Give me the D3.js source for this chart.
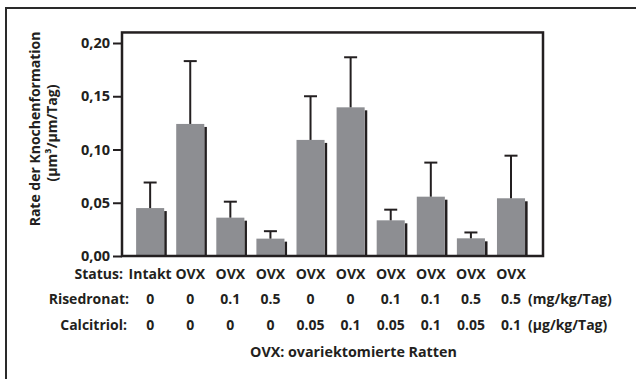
<!DOCTYPE html>
<html><head><meta charset="utf-8">
<script src="https://cdn.jsdelivr.net/npm/d3@7"></script>
<style>
body{margin:0;background:#fff;}
text{font-family:"Open Sans","DejaVu Sans",sans-serif;font-weight:700;fill:#231f20;}
</style></head><body>
<svg id="c" width="636" height="379"></svg>
<script>
const status = ["Intakt","OVX","OVX","OVX","OVX","OVX","OVX","OVX","OVX","OVX"];
const risedronat = ["0","0","0.1","0.5","0","0","0.1","0.1","0.5","0.5"];
const calcitriol = ["0","0","0","0","0.05","0.1","0.05","0.1","0.05","0.1"];
const values = [0.045,0.124,0.036,0.0163,0.109,0.1396,0.0335,0.0557,0.0166,0.0542];
const errors = [0.024,0.059,0.015,0.007,0.041,0.047,0.010,0.032,0.0055,0.040];
const yTicks = [0,0.05,0.10,0.15,0.20];

const svg = d3.select("#c");
const dark = "#231f20", gray = "#8d8e92";
const idx = d3.range(values.length);

// outer frame (top + left)
svg.append("path").attr("d","M6,660 L6,8 L700,8").attr("fill","none")
  .attr("stroke","#2a2a2a").attr("stroke-width",2);

const x = d3.scaleBand().domain(idx).range([122,543])
  .paddingInner(0.3).paddingOuter(0.4).align(0.44);
const y = d3.scaleLinear().domain([0,0.2]).range([256,43]);

// bars
const g = svg.append("g");
g.selectAll(".sh").data(idx).join("rect")
  .attr("x",i=>x(i)+x.bandwidth()).attr("width",2.6)
  .attr("y",i=>y(values[i])+3).attr("height",i=>y(0)-y(values[i])-3)
  .attr("fill",dark);
g.selectAll(".bar").data(idx).join("rect")
  .attr("x",i=>x(i)).attr("width",x.bandwidth())
  .attr("y",i=>y(values[i])).attr("height",i=>y(0)-y(values[i]))
  .attr("fill",gray);
// error bars
const cx = i=>x(i)+x.bandwidth()/2;
g.selectAll(".ev").data(idx).join("line")
  .attr("x1",cx).attr("x2",cx)
  .attr("y1",i=>y(values[i])).attr("y2",i=>y(values[i]+errors[i]))
  .attr("stroke",dark).attr("stroke-width",2);
g.selectAll(".ec").data(idx).join("line")
  .attr("x1",i=>cx(i)-6.5).attr("x2",i=>cx(i)+6.5)
  .attr("y1",i=>y(values[i]+errors[i])).attr("y2",i=>y(values[i]+errors[i]))
  .attr("stroke",dark).attr("stroke-width",2);

// plot frame
svg.append("rect").attr("x",122).attr("y",y(0.2099)).attr("width",421)
  .attr("height",y(0)-y(0.2099)).attr("fill","none")
  .attr("stroke",dark).attr("stroke-width",2.5);

// y axis
const ax = svg.append("g").attr("transform","translate(122,0)")
  .call(d3.axisLeft(y).tickValues(yTicks).tickSize(9).tickPadding(3)
    .tickFormat(d=>d3.format(".2f")(d).replace(".",",")));
ax.select(".domain").remove();
ax.selectAll(".tick line").attr("stroke",dark).attr("stroke-width",2);
ax.selectAll(".tick text").attr("font-size",14.5).attr("font-family",null).attr("fill",dark);

// y title
svg.append("text").attr("transform","translate(40,129) rotate(-90)")
  .attr("text-anchor","middle").attr("font-size",14).text("Rate der Knochenformation");
svg.append("text").attr("transform","translate(57,133) rotate(-90)")
  .attr("text-anchor","middle").attr("font-size",14).text("(μm³/μm/Tag)");

// category rows
const rows = [
  {label:"Status:", vals:status, y:279, lx:123, unit:null},
  {label:"Risedronat:", vals:risedronat, y:303.5, lx:129, unit:"(mg/kg/Tag)"},
  {label:"Calcitriol:", vals:calcitriol, y:330, lx:127, unit:"(μg/kg/Tag)"}
];
rows.forEach(r=>{
  svg.append("text").attr("x",r.lx).attr("y",r.y).attr("text-anchor","end")
    .attr("font-size",14).text(r.label);
  svg.selectAll(null).data(idx).join("text")
    .attr("x",cx).attr("y",r.y).attr("text-anchor","middle")
    .attr("font-size",14).text(i=>r.vals[i]);
  if(r.unit) svg.append("text").attr("x",528).attr("y",r.y).attr("font-size",14).text(r.unit);
});
svg.append("text").attr("x",250).attr("y",357).attr("font-size",14.3)
  .text("OVX: ovariektomierte Ratten");
</script></body></html>
